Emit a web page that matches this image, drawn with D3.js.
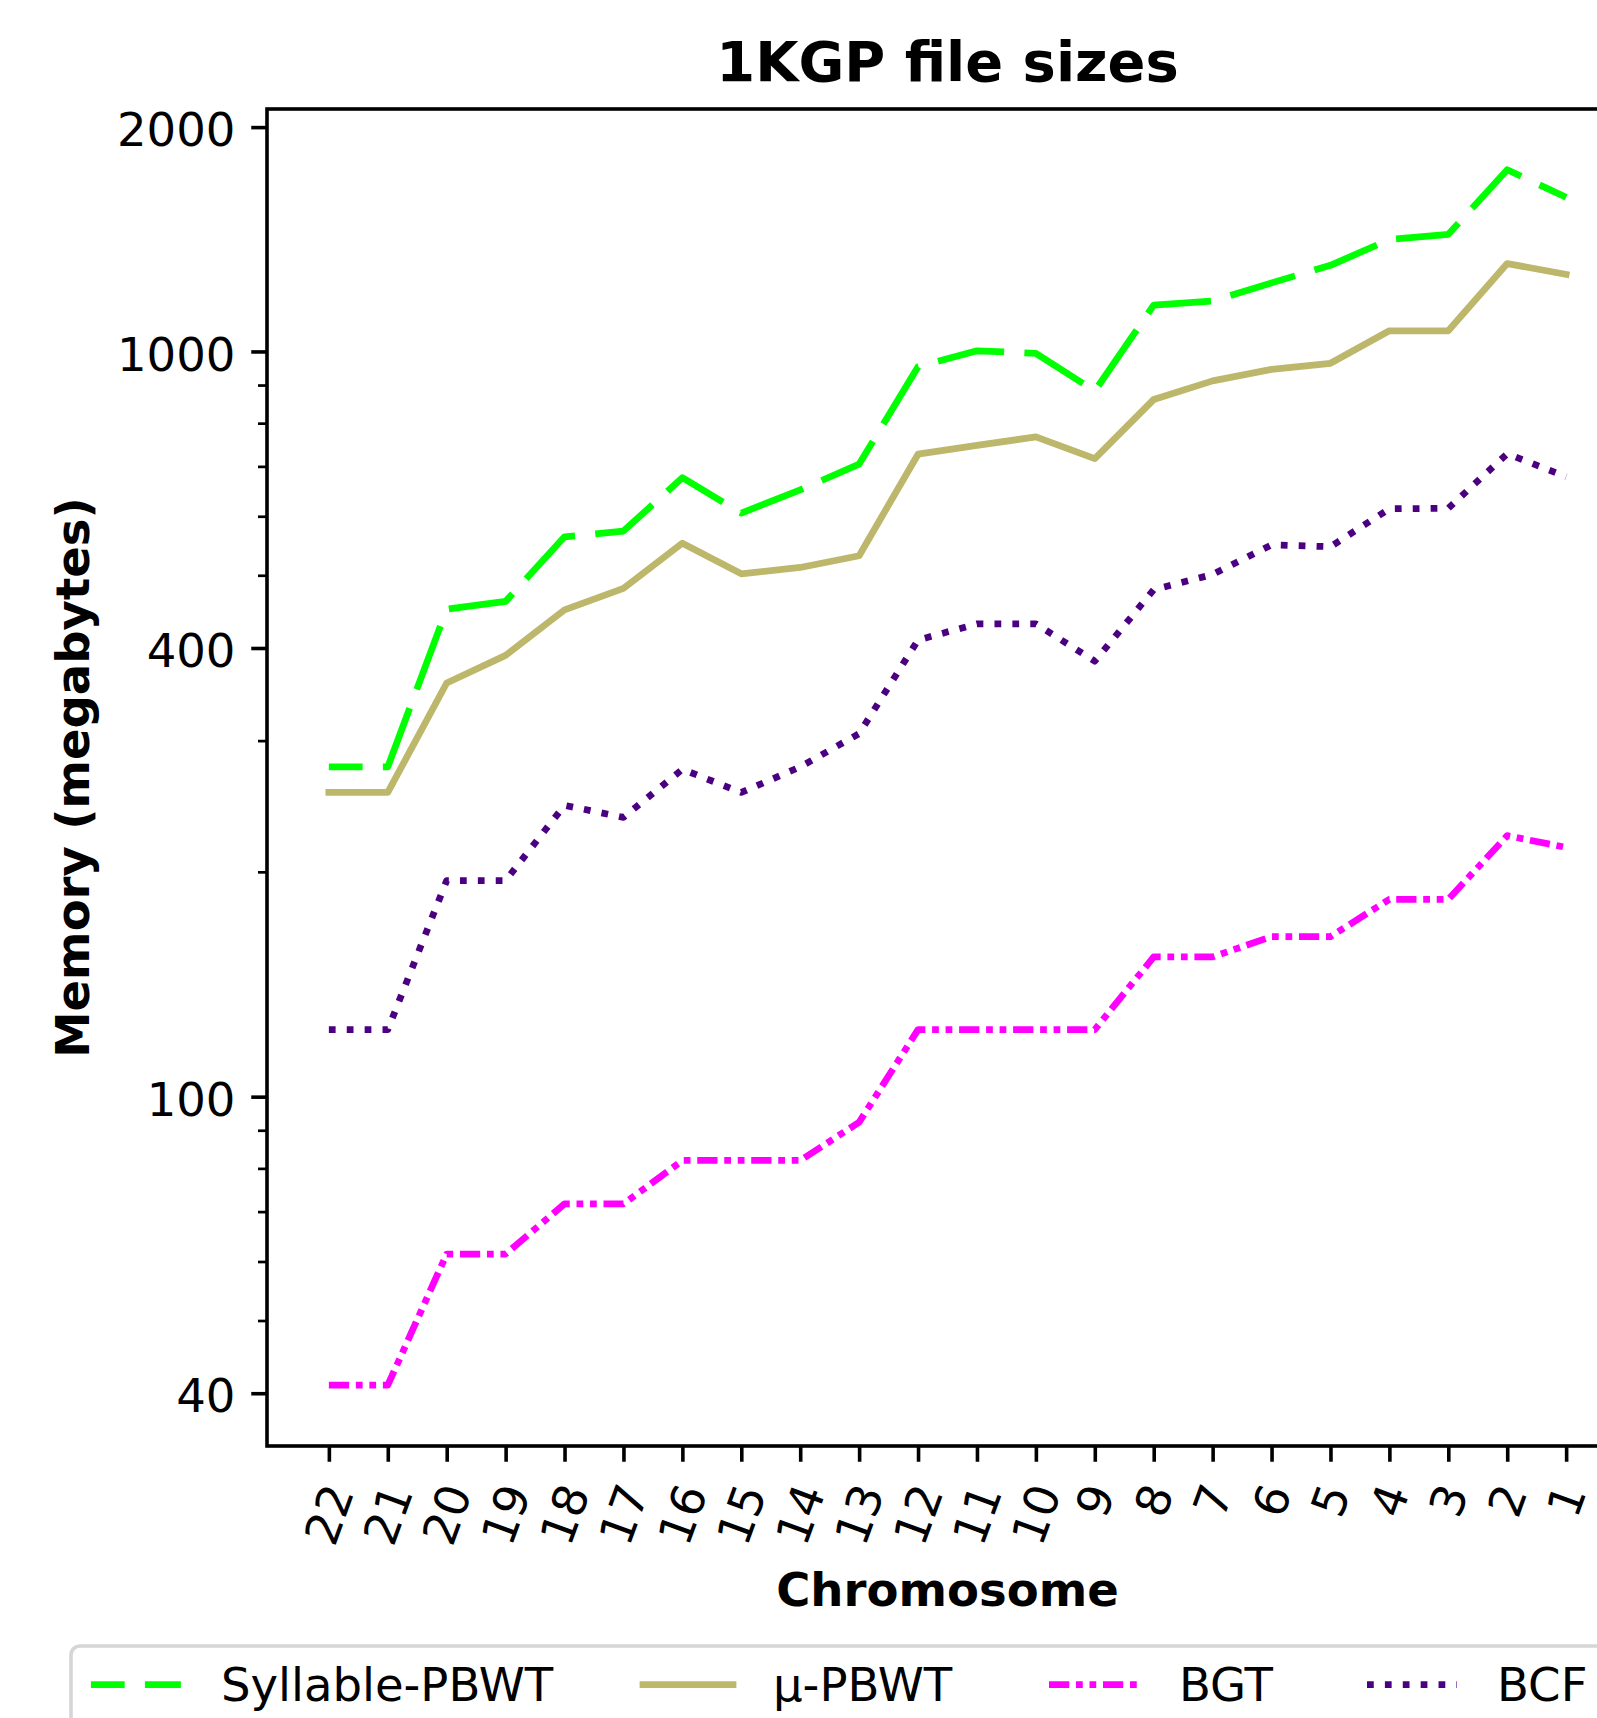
<!DOCTYPE html>
<html>
<head>
<meta charset="utf-8">
<script src="https://cdn.jsdelivr.net/npm/d3@7"></script>
<style>
  html, body { margin: 0; padding: 0; background: #fff; }
  svg { display: block; font-family: 'DejaVu Sans', sans-serif; }
</style>
</head>
<body>
<svg id="chart" width="1597" height="1718"></svg>
<script>
// chromosome order as plotted (22 -> 1)
const chromosomes = ['22', '21', '20', '19', '18', '17', '16', '15', '14', '13', '12', '11', '10', '9', '8', '7', '6', '5', '4', '3', '2', '1']

// file sizes in megabytes
const syllablePbwt = [277, 277, 451, 462, 564, 574, 677, 607, 652, 706, 954, 1002, 994, 885, 1154, 1169, 1236, 1305, 1413, 1436, 1753, 1610]
const muPbwt = [256, 256, 359, 391, 450, 481, 553, 503, 513, 532, 728, 748, 768, 718, 862, 913, 946, 964, 1066, 1066, 1312, 1269]
const bgt = [41.0, 41.0, 61.5, 61.5, 71.8, 71.8, 82.1, 82.1, 82.1, 92.4, 123, 123, 123, 123, 154, 154, 164, 164, 184, 184, 224, 216]
const bcf = [123, 123, 195, 195, 246, 237, 275, 256, 277, 307, 410, 431, 431, 384, 479, 502, 550, 547, 615, 616, 729, 679]

const yMajorTicks = [40, 100, 400, 1000, 2000]
const yMinorTicks = [50, 60, 70, 80, 90, 200, 300, 500, 600, 700, 800, 900]

const seriesNames = ['Syllable-PBWT', 'μ-PBWT', 'BGT', 'BCF']

const PT = 4.5            // one matplotlib point in pixels
const LW = 1.5 * PT       // line width
const FS = 10 * PT * 1.035  // tick / label font size (text renders a touch wider)

const series = [
  { name: seriesNames[0], values: syllablePbwt, color: '#00ff00', dash: [10 * LW, 3 * LW], offset: 5 * LW },
  { name: seriesNames[1], values: muPbwt, color: '#bdb76b', dash: null, offset: 0 },
  { name: seriesNames[2], values: bgt, color: '#ff00ff', dash: [3 * LW, LW, LW, LW, LW, LW], offset: 0 },
  { name: seriesNames[3], values: bcf, color: '#4b0082', dash: [LW, 1.65 * LW], offset: 0 },
]

const plot = { left: 267, top: 109, right: 1628, bottom: 1446 }

const svg = d3.select('#chart')

// x: category index with matplotlib-style 5% margins
const n = chromosomes.length
const xPad = (n - 1) * 0.05
const x = d3.scaleLinear()
  .domain([-xPad, n - 1 + xPad])
  .range([plot.left, plot.right])

// y: log scale, 5% margins in log space
const allVals = series.flatMap(s => s.values)
const lmin = Math.log10(d3.min(allVals))
const lmax = Math.log10(d3.max(allVals))
const lpad = (lmax - lmin) * 0.05
const y = d3.scaleLog()
  .domain([Math.pow(10, lmin - lpad), Math.pow(10, lmax + lpad)])
  .range([plot.bottom, plot.top])

// lines
const line = d3.line()
  .x((d, i) => x(i))
  .y(d => y(d))

const linesG = svg.append('g')
series.forEach(s => {
  linesG.append('path')
    .datum(s.values)
    .attr('d', line)
    .attr('fill', 'none')
    .attr('stroke', s.color)
    .attr('stroke-width', LW)
    .attr('stroke-linejoin', 'round')
    .attr('stroke-linecap', s.dash ? 'butt' : 'square')
    .attr('stroke-dasharray', s.dash ? s.dash.join(' ') : null)
    .attr('stroke-dashoffset', s.offset || null)
})

// y axis
const yAxis = svg.append('g')
  .attr('transform', `translate(${plot.left},0)`)
  .call(d3.axisLeft(y)
    .tickValues(yMajorTicks)
    .tickFormat(d3.format('d'))
    .tickSize(3.5 * PT)
    .tickPadding(3.5 * PT)
    .tickSizeOuter(0))
yAxis.select('.domain').remove()
yAxis.selectAll('line').attr('stroke', '#000').attr('stroke-width', 0.8 * PT)
yAxis.selectAll('text')
  .attr('font-size', FS)
  .attr('font-family', 'DejaVu Sans')
  .attr('fill', '#000')
  .attr('dy', '0.4em')

svg.append('g').selectAll('line')
  .data(yMinorTicks)
  .enter()
  .append('line')
  .attr('x1', plot.left - 2 * PT)
  .attr('x2', plot.left)
  .attr('y1', d => y(d))
  .attr('y2', d => y(d))
  .attr('stroke', '#000')
  .attr('stroke-width', 0.6 * PT)

// x axis
const xAxis = svg.append('g')
  .attr('transform', `translate(0,${plot.bottom})`)
  .call(d3.axisBottom(x)
    .tickValues(d3.range(n))
    .tickFormat(i => chromosomes[i])
    .tickSize(3.5 * PT)
    .tickSizeOuter(0))
xAxis.select('.domain').remove()
xAxis.selectAll('line').attr('stroke', '#000').attr('stroke-width', 0.8 * PT)

// rotated labels (70deg), bbox centred on tick and hung below it
const rot = 70 * Math.PI / 180
const lineH = FS * 1.164
const labelTop = 3.5 * PT + 3.5 * PT
xAxis.selectAll('.tick text')
  .attr('font-size', FS)
  .attr('font-family', 'DejaVu Sans')
  .attr('fill', '#000')
  .attr('y', null)
  .attr('dy', null)
  .attr('text-anchor', 'middle')
  .each(function() {
    const t = d3.select(this)
    const w = this.getComputedTextLength()
    const H = w * Math.sin(rot) + lineH * Math.cos(rot)
    t.attr('transform', `translate(0,${labelTop + H / 2}) rotate(-70)`)
      .attr('y', FS * 0.346)
  })

// spines
svg.append('rect')
  .attr('x', plot.left)
  .attr('y', plot.top)
  .attr('width', plot.right - plot.left)
  .attr('height', plot.bottom - plot.top)
  .attr('fill', 'none')
  .attr('stroke', '#000')
  .attr('stroke-width', 0.8 * PT)

// title and axis labels
const cx = (plot.left + plot.right) / 2
svg.append('text')
  .attr('x', cx)
  .attr('y', 81)
  .attr('text-anchor', 'middle')
  .attr('font-size', 12 * PT * 1.035)
  .attr('font-weight', 'bold')
  .text('1KGP file sizes')

svg.append('text')
  .attr('x', cx)
  .attr('y', 1606)
  .attr('text-anchor', 'middle')
  .attr('font-size', FS)
  .attr('font-weight', 'bold')
  .text('Chromosome')

svg.append('text')
  .attr('transform', `translate(89,${(plot.top + plot.bottom) / 2}) rotate(-90)`)
  .attr('text-anchor', 'middle')
  .attr('font-size', FS)
  .attr('font-weight', 'bold')
  .text('Memory (megabytes)')

// legend (runs off the right and bottom edge, as in the original)
const legend = svg.append('g')
legend.append('rect')
  .attr('x', 71)
  .attr('y', 1646)
  .attr('rx', 9)
  .attr('width', 1600)
  .attr('height', 95)
  .attr('fill', '#fff')
  .attr('fill-opacity', 0.8)
  .attr('stroke', '#cccccc')
  .attr('stroke-opacity', 0.8)
  .attr('stroke-width', 0.8 * PT)

const handleLen = 20 * PT
const handleY = 1684.5
const handleX = [90.9, 643, 1049, 1367]
series.forEach((s, i) => {
  const hx = handleX[i]
  legend.append('line')
    .attr('x1', hx)
    .attr('x2', hx + handleLen)
    .attr('y1', handleY)
    .attr('y2', handleY)
    .attr('stroke', s.color)
    .attr('stroke-width', LW)
    .attr('stroke-linecap', s.dash ? 'butt' : 'square')
    .attr('stroke-dasharray', s.dash ? s.dash.join(' ') : null)
    .attr('stroke-dashoffset', s.offset || null)
  legend.append('text')
    .attr('x', hx + handleLen + 40)
    .attr('y', 1701)
    .attr('font-size', FS)
    .text(s.name)
})
</script>
</body>
</html>
